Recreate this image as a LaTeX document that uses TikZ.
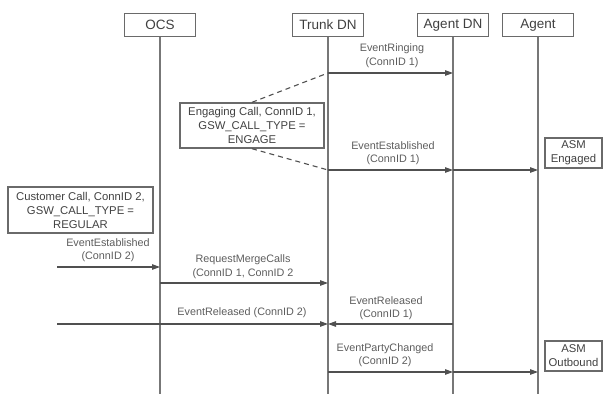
\documentclass[tikz,border=0pt]{standalone}
\usepackage{fontspec}
\setmainfont{Liberation Sans}
\usetikzlibrary{positioning,calc,arrows.meta}
\definecolor{seqLine}{HTML}{505050}
\definecolor{seqLife}{HTML}{777777}
\definecolor{seqText}{HTML}{404040}

\begin{document}
\begin{tikzpicture}[x=1pt, y=-1pt,
  headbox/.style={draw=seqLine!85, line width=1.4pt, minimum width=71pt, minimum height=23pt,
    inner sep=0pt, text=seqText, font=\fontsize{13.5}{15}\selectfont},
  notebox/.style={draw=seqLine!85, line width=1.4pt, align=center, inner sep=1pt,
    text=seqText, font=\fontsize{11.3}{14}\selectfont},
  msglabel/.style={align=center, inner sep=0pt, text=seqText!85,
    font=\fontsize{10.8}{13.5}\selectfont},
  lifeline/.style={draw=seqLife, line width=1.4pt},
  msg/.style={draw=seqLine, line width=1.1pt, -{Triangle[length=8pt,width=5.5pt]}},
  linkline/.style={draw=seqLine, line width=1.1pt, dash pattern=on 5pt off 4pt}]

\useasboundingbox (0,0) rectangle (603,394);

% --- HEADERS + LIFELINES ---
\node[headbox] (ocs)     at (160,25) {OCS};
\node[headbox] (trunk)   at (328,25) {Trunk DN};
\node[headbox] (agentdn) at (453,25) {Agent DN};
\node[headbox] (agent)   at (538,25) {Agent};

\foreach \n in {ocs, trunk, agentdn, agent} {
  \draw[lifeline] (\n.south) -- (\n.south |- 0,394);
  % message rows on every lifeline
  \foreach \r/\y in {ring/73, estA/170, estB/267, merge/283, rel/324, party/372}
    \coordinate (\n-\r) at (\n |- 0,\y);
}
\coordinate (inEst) at (57,267);
\coordinate (inRel) at (57,324);

% --- NOTES ---
\node[notebox, minimum width=144pt, minimum height=45pt] (engage) at (252,125.5)
  {Engaging Call, ConnID 1,\\GSW\_CALL\_TYPE =\\ENGAGE};
\node[notebox, minimum width=145pt, minimum height=46pt] (customer) at (80.5,210)
  {Customer Call, ConnID 2,\\GSW\_CALL\_TYPE =\\REGULAR};
\node[notebox, minimum width=57pt, minimum height=30pt] (asmEngaged) at (573.5,153)
  {ASM\\Engaged};
\node[notebox, minimum width=57pt, minimum height=30pt] (asmOutbound) at (573.5,356)
  {ASM\\Outbound};

\draw[linkline] (engage.north) -- (trunk-ring);
\draw[linkline] (engage.south) -- (trunk-estA);

% --- MESSAGES ---
\draw[msg] (trunk-ring) -- (agentdn-ring);
\draw[msg] (trunk-estA) -- (agentdn-estA);
\draw[msg] (agentdn-estA) -- (agent-estA);
\draw[msg] (inEst) -- (ocs-estB);
\draw[msg] (ocs-merge) -- (trunk-merge);
\draw[msg] (inRel) -- (trunk-rel);
\draw[msg] (agentdn-rel) -- (trunk-rel);
\draw[msg] (trunk-party) -- (agentdn-party);
\draw[msg] (agentdn-party) -- (agent-party);

% --- LABELS ---
\node[msglabel] (lRing)  at (392,55.5)  {EventRinging\\(ConnID 1)};
\node[msglabel] (lEstA)  at (393,153)   {EventEstablished\\(ConnID 1)};
\node[msglabel] (lEstB)  at (108,250)   {EventEstablished\\(ConnID 2)};
\node[msglabel] (lMerge) at (243,266.5) {RequestMergeCalls\\(ConnID 1, ConnID 2};
\node[msglabel] (lRelB)  at (242,313)   {EventReleased (ConnID 2)};
\node[msglabel] (lRelA)  at (386,308)   {EventReleased\\(ConnID 1)};
\node[msglabel] (lParty) at (385,355)   {EventPartyChanged\\(ConnID 2)};

\end{tikzpicture}
\end{document}
